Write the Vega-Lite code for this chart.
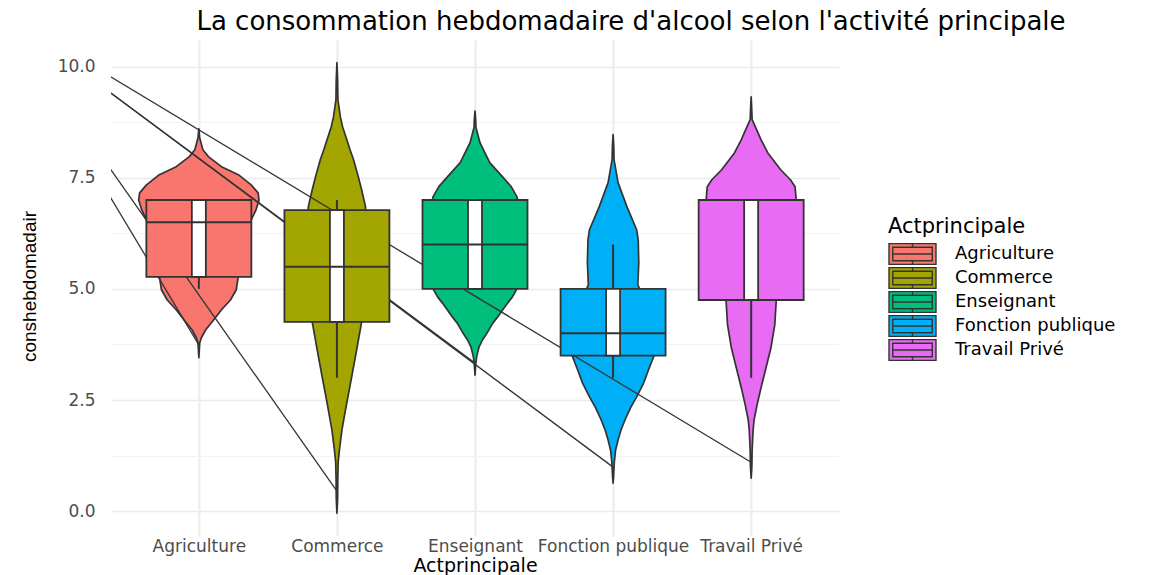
{
  "$schema": "https://vega.github.io/schema/vega-lite/v6.json",
  "width": 728,
  "height": 496,
  "autosize": {"type": "none"},
  "padding": {"left": 111, "top": 40, "right": 329, "bottom": 39},
  "background": "white",
  "title": {
    "text": "La consommation hebdomadaire d'alcool selon l'activité principale",
    "font": "DejaVu Sans",
    "fontSize": 26,
    "fontWeight": "normal",
    "color": "#000000",
    "anchor": "middle",
    "dx": 156,
    "offset": 5
  },
  "datasets": {
    "violons": [
      {"Actprincipale": "Agriculture", "k": 1, "conshebdomadair": 3.45, "densite": 0},
      {"Actprincipale": "Agriculture", "k": 1, "conshebdomadair": 3.78, "densite": 0.006},
      {"Actprincipale": "Agriculture", "k": 1, "conshebdomadair": 3.9, "densite": 0.018},
      {"Actprincipale": "Agriculture", "k": 1, "conshebdomadair": 4.08, "densite": 0.05},
      {"Actprincipale": "Agriculture", "k": 1, "conshebdomadair": 4.3, "densite": 0.107},
      {"Actprincipale": "Agriculture", "k": 1, "conshebdomadair": 4.53, "densite": 0.164},
      {"Actprincipale": "Agriculture", "k": 1, "conshebdomadair": 4.75, "densite": 0.229},
      {"Actprincipale": "Agriculture", "k": 1, "conshebdomadair": 4.98, "densite": 0.271},
      {"Actprincipale": "Agriculture", "k": 1, "conshebdomadair": 5.29, "densite": 0.286},
      {"Actprincipale": "Agriculture", "k": 1, "conshebdomadair": 5.8, "densite": 0.314},
      {"Actprincipale": "Agriculture", "k": 1, "conshebdomadair": 6.2, "densite": 0.343},
      {"Actprincipale": "Agriculture", "k": 1, "conshebdomadair": 6.55, "densite": 0.379},
      {"Actprincipale": "Agriculture", "k": 1, "conshebdomadair": 6.78, "densite": 0.414},
      {"Actprincipale": "Agriculture", "k": 1, "conshebdomadair": 7.0, "densite": 0.436},
      {"Actprincipale": "Agriculture", "k": 1, "conshebdomadair": 7.16, "densite": 0.429},
      {"Actprincipale": "Agriculture", "k": 1, "conshebdomadair": 7.34, "densite": 0.379},
      {"Actprincipale": "Agriculture", "k": 1, "conshebdomadair": 7.57, "densite": 0.286},
      {"Actprincipale": "Agriculture", "k": 1, "conshebdomadair": 7.75, "densite": 0.164},
      {"Actprincipale": "Agriculture", "k": 1, "conshebdomadair": 7.97, "densite": 0.071},
      {"Actprincipale": "Agriculture", "k": 1, "conshebdomadair": 8.13, "densite": 0.029},
      {"Actprincipale": "Agriculture", "k": 1, "conshebdomadair": 8.4, "densite": 0.006},
      {"Actprincipale": "Agriculture", "k": 1, "conshebdomadair": 8.6, "densite": 0},

      {"Actprincipale": "Commerce", "k": 2, "conshebdomadair": -0.05, "densite": 0},
      {"Actprincipale": "Commerce", "k": 2, "conshebdomadair": 0.3, "densite": 0.005},
      {"Actprincipale": "Commerce", "k": 2, "conshebdomadair": 0.7, "densite": 0.006},
      {"Actprincipale": "Commerce", "k": 2, "conshebdomadair": 1.1, "densite": 0.009},
      {"Actprincipale": "Commerce", "k": 2, "conshebdomadair": 1.37, "densite": 0.018},
      {"Actprincipale": "Commerce", "k": 2, "conshebdomadair": 1.82, "densite": 0.036},
      {"Actprincipale": "Commerce", "k": 2, "conshebdomadair": 2.43, "densite": 0.071},
      {"Actprincipale": "Commerce", "k": 2, "conshebdomadair": 3.02, "densite": 0.107},
      {"Actprincipale": "Commerce", "k": 2, "conshebdomadair": 3.63, "densite": 0.143},
      {"Actprincipale": "Commerce", "k": 2, "conshebdomadair": 4.26, "densite": 0.179},
      {"Actprincipale": "Commerce", "k": 2, "conshebdomadair": 4.8, "densite": 0.21},
      {"Actprincipale": "Commerce", "k": 2, "conshebdomadair": 5.5, "densite": 0.225},
      {"Actprincipale": "Commerce", "k": 2, "conshebdomadair": 6.3, "densite": 0.215},
      {"Actprincipale": "Commerce", "k": 2, "conshebdomadair": 6.85, "densite": 0.207},
      {"Actprincipale": "Commerce", "k": 2, "conshebdomadair": 7.23, "densite": 0.179},
      {"Actprincipale": "Commerce", "k": 2, "conshebdomadair": 7.52, "densite": 0.155},
      {"Actprincipale": "Commerce", "k": 2, "conshebdomadair": 7.91, "densite": 0.12},
      {"Actprincipale": "Commerce", "k": 2, "conshebdomadair": 8.13, "densite": 0.095},
      {"Actprincipale": "Commerce", "k": 2, "conshebdomadair": 8.65, "densite": 0.041},
      {"Actprincipale": "Commerce", "k": 2, "conshebdomadair": 8.87, "densite": 0.025},
      {"Actprincipale": "Commerce", "k": 2, "conshebdomadair": 9.26, "densite": 0.007},
      {"Actprincipale": "Commerce", "k": 2, "conshebdomadair": 9.7, "densite": 0.005},
      {"Actprincipale": "Commerce", "k": 2, "conshebdomadair": 10.09, "densite": 0},

      {"Actprincipale": "Enseignant", "k": 3, "conshebdomadair": 3.06, "densite": 0},
      {"Actprincipale": "Enseignant", "k": 3, "conshebdomadair": 3.3, "densite": 0.005},
      {"Actprincipale": "Enseignant", "k": 3, "conshebdomadair": 3.47, "densite": 0.012},
      {"Actprincipale": "Enseignant", "k": 3, "conshebdomadair": 3.69, "densite": 0.029},
      {"Actprincipale": "Enseignant", "k": 3, "conshebdomadair": 3.85, "densite": 0.054},
      {"Actprincipale": "Enseignant", "k": 3, "conshebdomadair": 4.0, "densite": 0.086},
      {"Actprincipale": "Enseignant", "k": 3, "conshebdomadair": 4.23, "densite": 0.129},
      {"Actprincipale": "Enseignant", "k": 3, "conshebdomadair": 4.37, "densite": 0.164},
      {"Actprincipale": "Enseignant", "k": 3, "conshebdomadair": 4.68, "densite": 0.236},
      {"Actprincipale": "Enseignant", "k": 3, "conshebdomadair": 4.82, "densite": 0.271},
      {"Actprincipale": "Enseignant", "k": 3, "conshebdomadair": 5.02, "densite": 0.307},
      {"Actprincipale": "Enseignant", "k": 3, "conshebdomadair": 5.5, "densite": 0.343},
      {"Actprincipale": "Enseignant", "k": 3, "conshebdomadair": 6.0, "densite": 0.357},
      {"Actprincipale": "Enseignant", "k": 3, "conshebdomadair": 6.5, "densite": 0.343},
      {"Actprincipale": "Enseignant", "k": 3, "conshebdomadair": 7.07, "densite": 0.304},
      {"Actprincipale": "Enseignant", "k": 3, "conshebdomadair": 7.3, "densite": 0.262},
      {"Actprincipale": "Enseignant", "k": 3, "conshebdomadair": 7.52, "densite": 0.2},
      {"Actprincipale": "Enseignant", "k": 3, "conshebdomadair": 7.84, "densite": 0.107},
      {"Actprincipale": "Enseignant", "k": 3, "conshebdomadair": 8.29, "densite": 0.036},
      {"Actprincipale": "Enseignant", "k": 3, "conshebdomadair": 8.63, "densite": 0.007},
      {"Actprincipale": "Enseignant", "k": 3, "conshebdomadair": 8.8, "densite": 0.005},
      {"Actprincipale": "Enseignant", "k": 3, "conshebdomadair": 9.0, "densite": 0},

      {"Actprincipale": "Fonction publique", "k": 4, "conshebdomadair": 0.63, "densite": 0},
      {"Actprincipale": "Fonction publique", "k": 4, "conshebdomadair": 0.79, "densite": 0.004},
      {"Actprincipale": "Fonction publique", "k": 4, "conshebdomadair": 1.1, "densite": 0.009},
      {"Actprincipale": "Fonction publique", "k": 4, "conshebdomadair": 1.37, "densite": 0.018},
      {"Actprincipale": "Fonction publique", "k": 4, "conshebdomadair": 1.6, "densite": 0.036},
      {"Actprincipale": "Fonction publique", "k": 4, "conshebdomadair": 1.82, "densite": 0.057},
      {"Actprincipale": "Fonction publique", "k": 4, "conshebdomadair": 2.05, "densite": 0.086},
      {"Actprincipale": "Fonction publique", "k": 4, "conshebdomadair": 2.34, "densite": 0.129},
      {"Actprincipale": "Fonction publique", "k": 4, "conshebdomadair": 2.57, "densite": 0.171},
      {"Actprincipale": "Fonction publique", "k": 4, "conshebdomadair": 2.88, "densite": 0.221},
      {"Actprincipale": "Fonction publique", "k": 4, "conshebdomadair": 3.18, "densite": 0.257},
      {"Actprincipale": "Fonction publique", "k": 4, "conshebdomadair": 3.51, "densite": 0.298},
      {"Actprincipale": "Fonction publique", "k": 4, "conshebdomadair": 3.85, "densite": 0.314},
      {"Actprincipale": "Fonction publique", "k": 4, "conshebdomadair": 4.3, "densite": 0.286},
      {"Actprincipale": "Fonction publique", "k": 4, "conshebdomadair": 4.75, "densite": 0.229},
      {"Actprincipale": "Fonction publique", "k": 4, "conshebdomadair": 5.09, "densite": 0.179},
      {"Actprincipale": "Fonction publique", "k": 4, "conshebdomadair": 5.59, "densite": 0.186},
      {"Actprincipale": "Fonction publique", "k": 4, "conshebdomadair": 6.1, "densite": 0.182},
      {"Actprincipale": "Fonction publique", "k": 4, "conshebdomadair": 6.33, "densite": 0.171},
      {"Actprincipale": "Fonction publique", "k": 4, "conshebdomadair": 6.85, "densite": 0.1},
      {"Actprincipale": "Fonction publique", "k": 4, "conshebdomadair": 7.39, "densite": 0.036},
      {"Actprincipale": "Fonction publique", "k": 4, "conshebdomadair": 7.91, "densite": 0.007},
      {"Actprincipale": "Fonction publique", "k": 4, "conshebdomadair": 8.2, "densite": 0.005},
      {"Actprincipale": "Fonction publique", "k": 4, "conshebdomadair": 8.47, "densite": 0},

      {"Actprincipale": "Travail Privé", "k": 5, "conshebdomadair": 0.74, "densite": 0},
      {"Actprincipale": "Travail Privé", "k": 5, "conshebdomadair": 1.0, "densite": 0.005},
      {"Actprincipale": "Travail Privé", "k": 5, "conshebdomadair": 1.37, "densite": 0.007},
      {"Actprincipale": "Travail Privé", "k": 5, "conshebdomadair": 1.82, "densite": 0.014},
      {"Actprincipale": "Travail Privé", "k": 5, "conshebdomadair": 2.05, "densite": 0.021},
      {"Actprincipale": "Travail Privé", "k": 5, "conshebdomadair": 2.39, "densite": 0.043},
      {"Actprincipale": "Travail Privé", "k": 5, "conshebdomadair": 2.73, "densite": 0.068},
      {"Actprincipale": "Travail Privé", "k": 5, "conshebdomadair": 3.18, "densite": 0.104},
      {"Actprincipale": "Travail Privé", "k": 5, "conshebdomadair": 3.67, "densite": 0.143},
      {"Actprincipale": "Travail Privé", "k": 5, "conshebdomadair": 4.19, "densite": 0.171},
      {"Actprincipale": "Travail Privé", "k": 5, "conshebdomadair": 4.75, "densite": 0.182},
      {"Actprincipale": "Travail Privé", "k": 5, "conshebdomadair": 5.3, "densite": 0.214},
      {"Actprincipale": "Travail Privé", "k": 5, "conshebdomadair": 6.0, "densite": 0.271},
      {"Actprincipale": "Travail Privé", "k": 5, "conshebdomadair": 6.6, "densite": 0.307},
      {"Actprincipale": "Travail Privé", "k": 5, "conshebdomadair": 7.05, "densite": 0.325},
      {"Actprincipale": "Travail Privé", "k": 5, "conshebdomadair": 7.3, "densite": 0.318},
      {"Actprincipale": "Travail Privé", "k": 5, "conshebdomadair": 7.45, "densite": 0.286},
      {"Actprincipale": "Travail Privé", "k": 5, "conshebdomadair": 7.68, "densite": 0.214},
      {"Actprincipale": "Travail Privé", "k": 5, "conshebdomadair": 7.91, "densite": 0.157},
      {"Actprincipale": "Travail Privé", "k": 5, "conshebdomadair": 8.06, "densite": 0.121},
      {"Actprincipale": "Travail Privé", "k": 5, "conshebdomadair": 8.36, "densite": 0.071},
      {"Actprincipale": "Travail Privé", "k": 5, "conshebdomadair": 8.51, "densite": 0.05},
      {"Actprincipale": "Travail Privé", "k": 5, "conshebdomadair": 8.81, "densite": 0.007},
      {"Actprincipale": "Travail Privé", "k": 5, "conshebdomadair": 9.05, "densite": 0.004},
      {"Actprincipale": "Travail Privé", "k": 5, "conshebdomadair": 9.32, "densite": 0}
    ],
    "lignes": [
      {"Actprincipale": "Agriculture", "k": -0.457, "conshebdomadair": 11.3},
      {"Actprincipale": "Agriculture", "k": 1, "conshebdomadair": 3.74},
      {"Actprincipale": "Commerce", "k": -0.457, "conshebdomadair": 11.3},
      {"Actprincipale": "Commerce", "k": 2, "conshebdomadair": 0.45},
      {"Actprincipale": "Enseignant", "k": -0.457, "conshebdomadair": 11.3},
      {"Actprincipale": "Enseignant", "k": 3, "conshebdomadair": 3.33},
      {"Actprincipale": "Fonction publique", "k": -0.457, "conshebdomadair": 11.3},
      {"Actprincipale": "Fonction publique", "k": 4, "conshebdomadair": 0.99},
      {"Actprincipale": "Travail Privé", "k": -0.457, "conshebdomadair": 11.3},
      {"Actprincipale": "Travail Privé", "k": 5, "conshebdomadair": 1.1}
    ],
    "boites": [
      {"Actprincipale": "Agriculture", "k": 1, "bas": 5.0, "q1": 5.27, "mediane": 6.5, "q3": 7.0, "haut": 7.0},
      {"Actprincipale": "Commerce", "k": 2, "bas": 3.0, "q1": 4.26, "mediane": 5.5, "q3": 6.77, "haut": 7.0},
      {"Actprincipale": "Enseignant", "k": 3, "bas": 5.0, "q1": 5.0, "mediane": 6.0, "q3": 7.0, "haut": 7.0},
      {"Actprincipale": "Fonction publique", "k": 4, "bas": 3.0, "q1": 3.5, "mediane": 4.0, "q3": 5.0, "haut": 6.0},
      {"Actprincipale": "Travail Privé", "k": 5, "bas": 3.0, "q1": 4.75, "mediane": 7.0, "q3": 7.0, "haut": 7.0}
    ]
  },
  "layer": [
    {
      "data": {"name": "violons"},
      "transform": [
        {"calculate": "datum.k - datum.densite", "as": "gauche"},
        {"calculate": "datum.k + datum.densite", "as": "droite"}
      ],
      "mark": {"type": "area", "orient": "horizontal", "stroke": "#333333", "strokeWidth": 1.7, "opacity": 1, "fillOpacity": 1, "strokeJoin": "round"},
      "encoding": {
        "y": {
          "field": "conshebdomadair", "type": "quantitative",
          "scale": {"domain": [-0.56, 10.6], "nice": false, "zero": false},
          "axis": {
            "values": [0, 2.5, 5, 7.5, 10], "format": ".1f",
            "grid": true, "gridColor": "#EBEBEB", "gridWidth": 1.3,
            "ticks": false, "domain": false,
            "labelFont": "DejaVu Sans", "labelFontSize": 17, "labelColor": "#4D4D4D", "labelPadding": 16,
            "title": "conshebdomadair",
            "titleFont": "Liberation Sans Narrow, Liberation Sans",
            "titleFontSize": 19, "titleFontWeight": "normal", "titleColor": "#000000",
            "titleAngle": -90, "titleX": -76, "titleY": 246, "titleAlign": "center", "titleBaseline": "alphabetic"
          }
        },
        "x": {
          "field": "gauche", "type": "quantitative", "stack": null,
          "scale": {"domain": [0.4, 5.6], "nice": false, "zero": false},
          "axis": {
            "values": [1, 2, 3, 4, 5],
            "labelExpr": "['Agriculture','Commerce','Enseignant','Fonction publique','Travail Privé'][datum.value - 1]",
            "grid": true, "gridColor": "#EBEBEB", "gridWidth": 2,
            "ticks": false, "domain": false, "labelOverlap": false,
            "labelFont": "DejaVu Sans", "labelFontSize": 17, "labelColor": "#4D4D4D", "labelPadding": 2, "labelLimit": 400,
            "title": "Actprincipale",
            "titleFont": "DejaVu Sans", "titleFontSize": 19, "titleFontWeight": "normal", "titleColor": "#000000",
            "titleY": 35, "titleBaseline": "alphabetic"
          }
        },
        "x2": {"field": "droite"},
        "fill": {
          "field": "Actprincipale", "type": "nominal",
          "scale": {
            "domain": ["Agriculture", "Commerce", "Enseignant", "Fonction publique", "Travail Privé"],
            "range": ["#F8766D", "#A3A500", "#00BF7D", "#00B0F6", "#E76BF3"]
          },
          "legend": {
            "title": "Actprincipale",
            "orient": "none", "legendX": 777, "legendY": 176,
            "symbolType": "M-1,-0.44H1V0.44H-1Z M-0.84,-0.29H0.84V0.29H-0.84Z M-0.84,0H0.84 M0,-0.44V-0.29 M0,0.29V0.44",
            "symbolSize": 2209, "symbolStrokeColor": "#333333", "symbolStrokeWidth": 1.4, "symbolOpacity": 1,
            "clipHeight": 22, "rowPadding": 2, "labelOffset": 18, "padding": 0,
            "labelFont": "DejaVu Sans", "labelFontSize": 18, "labelColor": "#000000", "labelLimit": 400,
            "titleFont": "DejaVu Sans", "titleFontSize": 21, "titleFontWeight": "normal", "titleColor": "#000000",
            "titlePadding": 6
          }
        },
        "detail": {"field": "Actprincipale"}
      }
    },
    {
      "data": {"name": "lignes"},
      "mark": {"type": "line", "clip": true, "color": "#333333", "strokeWidth": 1.3},
      "encoding": {
        "x": {"field": "k", "type": "quantitative", "axis": null},
        "y": {
          "field": "conshebdomadair", "type": "quantitative",
          "axis": {
            "values": [1.25, 3.75, 6.25, 8.75], "grid": true, "gridColor": "#F3F3F3", "gridWidth": 1,
            "labels": false, "ticks": false, "domain": false, "title": null, "orient": "left"
          }
        },
        "detail": {"field": "Actprincipale"}
      }
    },
    {
      "data": {"name": "boites"},
      "mark": {"type": "bar", "width": 105, "stroke": "#333333", "strokeWidth": 1.8, "opacity": 1},
      "encoding": {
        "x": {"field": "k", "type": "quantitative", "axis": null},
        "y": {"field": "q1", "type": "quantitative", "axis": null},
        "y2": {"field": "q3"},
        "fill": {"field": "Actprincipale", "type": "nominal", "legend": null}
      }
    },
    {
      "data": {"name": "boites"},
      "mark": {"type": "rule", "color": "#333333", "strokeWidth": 2},
      "encoding": {
        "x": {"field": "k", "type": "quantitative", "axis": null},
        "y": {"field": "bas", "type": "quantitative", "axis": null},
        "y2": {"field": "q1"}
      }
    },
    {
      "data": {"name": "boites"},
      "mark": {"type": "rule", "color": "#333333", "strokeWidth": 2},
      "encoding": {
        "x": {"field": "k", "type": "quantitative", "axis": null},
        "y": {"field": "q3", "type": "quantitative", "axis": null},
        "y2": {"field": "haut"}
      }
    },
    {
      "data": {"name": "boites"},
      "mark": {"type": "bar", "width": 14, "fill": "#FFFFFF", "stroke": "#333333", "strokeWidth": 1.8, "opacity": 1},
      "encoding": {
        "x": {"field": "k", "type": "quantitative", "axis": null},
        "y": {"field": "q1", "type": "quantitative", "axis": null},
        "y2": {"field": "q3"}
      }
    },
    {
      "data": {"name": "boites"},
      "mark": {"type": "tick", "orient": "horizontal", "size": 105, "thickness": 2, "color": "#333333", "opacity": 1},
      "encoding": {
        "x": {"field": "k", "type": "quantitative", "axis": null},
        "y": {"field": "mediane", "type": "quantitative", "axis": null}
      }
    }
  ],
  "resolve": {"axis": {"x": "independent", "y": "independent"}},
  "config": {"view": {"stroke": null}}
}
